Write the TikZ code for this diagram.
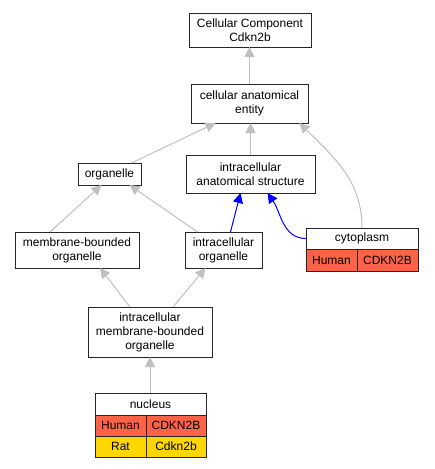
\documentclass[tikz,border=0pt]{standalone}
\usepackage{fontspec}
\setmainfont{Liberation Sans}
\usetikzlibrary{arrows.meta}
\definecolor{humanred}{HTML}{FF6347}
\definecolor{ratgold}{HTML}{FFD700}
\definecolor{edgegray}{HTML}{C0C0C0}
\begin{document}
\begin{tikzpicture}[x=1pt,y=-1pt,
  every node/.style={font=\fontsize{12}{14}\selectfont, inner sep=0pt, outer sep=0pt},
  term/.style={draw=black!85, line width=1pt, fill=white, align=center},
  cell/.style={draw=black!85, line width=1pt, align=center},
  isa/.style={draw=edgegray, line width=1pt, -{Triangle[length=10pt,width=10pt]}},
  partof/.style={draw=blue, line width=1pt, -{Triangle[length=10pt,width=10pt]}}]
\useasboundingbox (0,0) rectangle (435,469);
\fill[white] (0,0) rectangle (435,469);
% terms
\node[term, minimum width=122pt, minimum height=34pt] (cc) at (250,30) {Cellular Component\\Cdkn2b};
\node[term, minimum width=117pt, minimum height=39pt] (cae) at (249.5,103.5) {cellular anatomical\\entity};
\node[term, minimum width=63pt, minimum height=22pt] (org) at (109.5,174) {organelle};
\node[term, minimum width=129pt, minimum height=38pt] (ias) at (250.5,174) {intracellular\\anatomical structure};
\node[term, minimum width=124pt, minimum height=36pt] (mbo) at (77,250) {membrane-bounded\\organelle};
\node[term, minimum width=77pt, minimum height=36pt] (io) at (223.5,250) {intracellular\\organelle};
\node[term, minimum width=124pt, minimum height=50pt] (imbo) at (150,332) {intracellular\\membrane-bounded\\organelle};
% cytoplasm table
\node[term, minimum width=112pt, minimum height=21pt] (cyto) at (362,238.5) {cytoplasm};
\node[cell, fill=humanred, minimum width=51pt, minimum height=22pt] (cytoh) at (331.5,260) {Human};
\node[cell, fill=humanred, minimum width=61pt, minimum height=22pt] (cytog) at (387.5,260) {CDKN2B};
% nucleus table
\node[term, minimum width=111pt, minimum height=22pt] (nuc) at (150.5,404) {nucleus};
\node[cell, fill=humanred, minimum width=51pt, minimum height=21pt] (nuch) at (120.5,425.5) {Human};
\node[cell, fill=humanred, minimum width=60pt, minimum height=21pt] (nucg) at (176,425.5) {CDKN2B};
\node[cell, fill=ratgold, minimum width=51pt, minimum height=21pt] (nucr) at (120.5,446.5) {Rat};
\node[cell, fill=ratgold, minimum width=60pt, minimum height=21pt] (nucrg) at (176,446.5) {Cdkn2b};
% edges
\draw[isa] (cae.north) -- (cae.north |- cc.south);
\draw[isa] ([xshift=22pt]org.north) -- ([xshift=-34pt]cae.south);
\draw[isa] (ias.north) -- (ias.north |- cae.south);
\draw[isa] (cyto.north) to[out=90,in=-45] ([xshift=50pt]cae.south);
\draw[isa] ([xshift=-27pt]mbo.north) -- ([xshift=-8pt]org.south);
\draw[isa] ([xshift=-26pt]io.north) -- ([xshift=20pt]org.south);
\draw[partof] ([xshift=7pt]io.north) -- ([xshift=-10pt]ias.south);
\draw[partof] (cyto.west) to[out=180,in=-55] ([xshift=17pt]ias.south);
\draw[isa] ([xshift=-20pt]imbo.north) -- ([xshift=23pt]mbo.south);
\draw[isa] ([xshift=23pt]imbo.north) -- ([xshift=-18pt]io.south);
\draw[isa] (nuc.north -| imbo.south) -- (imbo.south);
\end{tikzpicture}
\end{document}
